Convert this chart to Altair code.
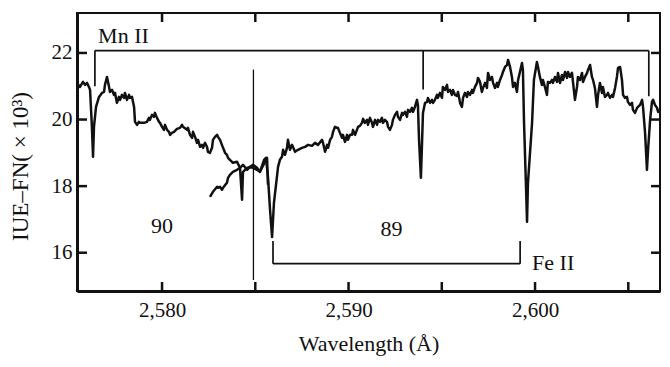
import altair as alt
import pandas as pd

# ---- spectrum, echelle order 90 (left part) ----
W90 = [2575.44, 2575.60, 2575.76, 2575.87, 2575.98, 2576.08, 2576.14, 2576.24, 2576.30, 2576.35,
       2576.46, 2576.62, 2576.78, 2576.89, 2576.94, 2577.05, 2577.16, 2577.21, 2577.32, 2577.42,
       2577.48, 2577.58, 2577.69, 2577.75, 2577.85, 2577.96, 2578.01, 2578.12, 2578.23, 2578.28,
       2578.39, 2578.50, 2578.55, 2578.66, 2578.76, 2578.82, 2579.03, 2579.19, 2579.30, 2579.35,
       2579.46, 2579.57, 2579.62, 2579.73, 2579.84, 2579.89, 2580.00, 2580.10, 2580.16, 2580.27,
       2580.37, 2580.43, 2580.53, 2580.64, 2580.80, 2580.96, 2581.07, 2581.12, 2581.34, 2581.39,
       2581.50, 2581.61, 2581.66, 2581.77, 2581.87, 2581.93, 2582.04, 2582.14, 2582.20, 2582.30,
       2582.41, 2582.46, 2582.57, 2582.68, 2582.73, 2582.84, 2582.95, 2583.00, 2583.11, 2583.21,
       2583.27, 2583.38, 2583.48, 2583.54, 2583.64, 2583.75, 2583.80, 2584.02, 2584.18, 2584.29,
       2584.34, 2584.56, 2584.72, 2584.88, 2585.09, 2585.25, 2585.52, 2585.63, 2585.68]
F90 = [21.10, 20.98, 21.13, 21.04, 21.10, 20.98, 20.89, 19.78, 18.88, 19.78,
       20.38, 20.68, 20.80, 20.83, 21.04, 21.28, 20.98, 20.83, 20.89, 20.74,
       20.80, 20.50, 20.68, 20.59, 20.74, 20.65, 20.80, 20.59, 20.74, 20.65,
       20.68, 20.38, 19.93, 19.84, 19.93, 19.90, 19.90, 19.93, 20.05, 19.99,
       20.14, 20.08, 20.20, 20.05, 19.93, 19.90, 19.78, 19.69, 19.84, 19.69,
       19.63, 19.54, 19.60, 19.63, 19.72, 19.75, 19.84, 19.78, 19.69, 19.75,
       19.54, 19.45, 19.63, 19.48, 19.30, 19.39, 19.18, 19.24, 19.15, 19.30,
       19.18, 19.03, 19.00, 19.15, 19.39, 19.48, 19.54, 19.48, 19.39, 19.24,
       19.15, 19.00, 18.94, 18.85, 18.79, 18.73, 18.70, 18.73, 18.55, 17.59,
       18.43, 18.55, 18.58, 18.64, 18.55, 18.43, 18.73, 18.85, 18.04]

# ---- spectrum, echelle order 89 (right part) ----
W89 = [2582.57, 2582.73, 2582.95, 2583.00, 2583.11, 2583.21, 2583.27, 2583.48, 2583.54, 2583.64,
       2583.80, 2584.02, 2584.18, 2584.34, 2584.56, 2584.72, 2584.88, 2585.09, 2585.25, 2585.47,
       2585.57, 2585.68, 2585.79, 2585.90, 2586.00, 2586.16, 2586.22, 2586.32, 2586.43, 2586.49,
       2586.59, 2586.70, 2586.75, 2586.86, 2586.97, 2587.13, 2587.29, 2587.50, 2587.67, 2587.83,
       2588.04, 2588.20, 2588.36, 2588.58, 2588.63, 2588.74, 2588.85, 2588.90, 2589.01, 2589.11,
       2589.17, 2589.27, 2589.38, 2589.43, 2589.54, 2589.65, 2589.70, 2589.81, 2589.92, 2589.97,
       2590.08, 2590.19, 2590.24, 2590.35, 2590.45, 2590.51, 2590.61, 2590.72, 2590.78, 2590.88,
       2590.99, 2591.04, 2591.15, 2591.26, 2591.31, 2591.42, 2591.53, 2591.58, 2591.69, 2591.79,
       2591.85, 2591.95, 2592.06, 2592.12, 2592.22, 2592.33, 2592.38, 2592.49, 2592.60, 2592.65,
       2592.76, 2592.87, 2592.92, 2593.03, 2593.13, 2593.19, 2593.30, 2593.40, 2593.46, 2593.56,
       2593.67, 2593.72, 2593.78, 2593.88, 2593.94, 2593.99, 2594.10, 2594.21, 2594.26, 2594.37,
       2594.47, 2594.53, 2594.63, 2594.74, 2594.79, 2594.90, 2595.01, 2595.06, 2595.17, 2595.28,
       2595.33, 2595.44, 2595.54, 2595.60, 2595.71, 2595.81, 2595.87, 2595.98, 2596.08, 2596.14,
       2596.24, 2596.35, 2596.40, 2596.51, 2596.62, 2596.67, 2596.78, 2596.89, 2596.94, 2597.05,
       2597.15, 2597.21, 2597.32, 2597.42, 2597.48, 2597.58, 2597.69, 2597.75, 2597.85, 2597.96,
       2598.01, 2598.12, 2598.23, 2598.28, 2598.39, 2598.50, 2598.55, 2598.66, 2598.76, 2598.82,
       2598.92, 2599.03, 2599.09, 2599.19, 2599.30, 2599.35, 2599.41, 2599.52, 2599.57, 2599.62,
       2599.84, 2599.94, 2600.10, 2600.16, 2600.26, 2600.37, 2600.42, 2600.53, 2600.64, 2600.69,
       2600.80, 2600.91, 2600.96, 2601.07, 2601.18, 2601.23, 2601.34, 2601.44, 2601.50, 2601.61,
       2601.71, 2601.77, 2601.87, 2601.98, 2602.04, 2602.14, 2602.25, 2602.30, 2602.41, 2602.52,
       2602.57, 2602.68, 2602.79, 2602.84, 2602.95, 2603.05, 2603.11, 2603.21, 2603.32, 2603.38,
       2603.48, 2603.59, 2603.64, 2603.75, 2603.86, 2603.91, 2604.02, 2604.13, 2604.18, 2604.29,
       2604.39, 2604.45, 2604.56, 2604.66, 2604.72, 2604.82, 2604.93, 2604.98, 2605.09, 2605.20,
       2605.25, 2605.36, 2605.47, 2605.52, 2605.63, 2605.74, 2605.79, 2605.90, 2606.00, 2606.06,
       2606.17, 2606.27, 2606.33, 2606.43, 2606.54, 2606.60, 2606.70]
F89 = [17.68, 17.83, 17.98, 17.95, 17.98, 17.89, 17.95, 18.10, 18.25, 18.34,
       18.43, 18.49, 18.55, 18.64, 18.49, 18.58, 18.55, 18.49, 18.43, 18.79,
       18.85, 18.28, 17.29, 16.47, 17.50, 18.28, 18.58, 18.79, 18.88, 19.09,
       18.94, 19.15, 19.39, 19.09, 19.24, 19.03, 19.09, 19.15, 19.18, 19.24,
       19.21, 19.30, 19.24, 19.39, 19.30, 19.03, 19.24, 19.15, 19.39, 19.48,
       19.63, 19.78, 19.75, 19.75, 19.60, 19.45, 19.54, 19.33, 19.54, 19.39,
       19.54, 19.54, 19.69, 19.54, 19.69, 19.78, 19.81, 19.90, 20.02, 19.90,
       19.99, 19.84, 20.05, 19.90, 19.78, 19.99, 19.84, 19.99, 19.93, 20.05,
       19.90, 19.99, 19.93, 19.78, 19.69, 19.84, 19.99, 20.14, 20.23, 20.08,
       19.99, 20.20, 20.14, 20.23, 20.08, 20.29, 20.23, 20.35, 20.23, 20.38,
       20.59, 20.44, 19.39, 18.25, 19.30, 20.20, 20.50, 20.53, 20.65, 20.50,
       20.59, 20.50, 20.59, 20.74, 20.65, 20.80, 20.65, 20.98, 20.89, 21.04,
       20.83, 20.89, 20.74, 20.89, 20.74, 20.71, 20.83, 20.50, 20.38, 20.65,
       20.80, 20.68, 20.83, 20.74, 20.89, 20.80, 20.98, 21.10, 21.25, 21.13,
       20.83, 20.95, 21.10, 20.95, 21.40, 21.19, 21.28, 21.10, 20.95, 21.10,
       20.98, 21.19, 21.34, 21.43, 21.58, 21.64, 21.79, 21.58, 21.28, 20.98,
       21.10, 20.83, 21.19, 21.43, 21.70, 21.49, 19.90, 17.89, 16.93, 18.10,
       19.90, 21.19, 21.73, 21.58, 21.28, 21.04, 21.19, 20.98, 20.74, 21.13,
       21.10, 21.19, 21.10, 21.28, 21.13, 21.40, 21.10, 21.34, 21.19, 21.43,
       21.25, 21.43, 21.28, 21.40, 21.10, 20.59, 20.98, 21.28, 21.19, 21.40,
       21.13, 21.28, 21.40, 21.49, 21.64, 21.28, 21.19, 20.95, 20.38, 20.74,
       21.10, 20.80, 20.98, 20.68, 20.74, 20.80, 20.65, 20.74, 20.68, 20.95,
       21.28, 21.55, 21.58, 21.19, 20.74, 20.65, 20.68, 20.53, 20.44, 20.50,
       20.29, 20.20, 20.35, 20.38, 20.44, 20.59, 20.38, 19.60, 18.49, 19.09,
       19.99, 20.53, 20.59, 20.44, 20.35, 20.23, 20.29]

# ---- axes ----
X_DOMAIN = [2575.44, 2606.7]
Y_DOMAIN = [14.85, 23.2]
X_TICKS = [2580, 2585, 2590, 2595, 2600, 2605]
X_LABELS = [2580, 2590, 2600]
Y_TICKS = [16, 18, 20, 22]

# ---- line identifications (brackets) ----
MN_LEVEL = 22.07
MN_W = [2576.4, 2594.0, 2606.1]
MN_END = [21.0, 20.9, 20.7]
FE_LEVEL = 15.67
FE_W = [2585.95, 2599.2]
FE_TOP = 16.35
ORDER_SPLIT_W = 2584.9
ORDER_SPLIT_F = [15.18, 21.5]

# ---- text labels ----
LEFT_TEXT = ["Mn II", "Fe II"]
LEFT_W = [2576.57, 2599.84]
LEFT_F = [22.3, 15.48]
CENTER_TEXT = ["90", "89"]
CENTER_W = [2580.0, 2592.3]
CENTER_F = [16.6, 16.5]

FONT = "Liberation Serif"
INK = "#111111"
PW, PH = 583, 278

xs = alt.Scale(domain=X_DOMAIN, nice=False, zero=False)
ys = alt.Scale(domain=Y_DOMAIN, nice=False, zero=False)

spec = pd.DataFrame({
    "w": W90 + W89,
    "f": F90 + F89,
    "order": ["90"] * len(W90) + ["89"] * len(W89),
})

x_axis = alt.Axis(
    values=X_LABELS, format=",d", title="Wavelength (Å)", grid=False,
    ticks=False, tickSize=0, labelPadding=25, labelBaseline="alphabetic",
    labelFont=FONT, labelFontSize=21, labelColor=INK,
    titleFont=FONT, titleFontSize=22, titleFontWeight="normal", titleColor=INK,
    titleY=59, titleBaseline="alphabetic",
    domainWidth=3, domainColor=INK)
y_axis = alt.Axis(
    values=Y_TICKS, format="d", title="IUE–FN( × 10³)", grid=False,
    ticks=False, tickSize=0, labelPadding=5,
    labelFont=FONT, labelFontSize=21, labelColor=INK,
    titleFont=FONT, titleFontSize=23, titleFontWeight="normal", titleColor=INK,
    titleAngle=270, titleX=-57, titleY=153, titleAlign="center", titleBaseline="middle",
    domainWidth=3, domainColor=INK)

spectrum = alt.Chart(spec).mark_line(color=INK, strokeWidth=2.5, strokeJoin="round").encode(
    x=alt.X("w:Q", scale=xs, axis=x_axis),
    y=alt.Y("f:Q", scale=ys, axis=y_axis),
    detail="order:N",
    order=alt.Order("w:Q"),
)

# bracket segments
seg_rows = []
seg_rows.append({"w": MN_W[0], "w2": MN_W[-1], "f": MN_LEVEL, "f2": MN_LEVEL})
for w, e in zip(MN_W, MN_END):
    seg_rows.append({"w": w, "w2": w, "f": MN_LEVEL, "f2": e})
seg_rows.append({"w": FE_W[0], "w2": FE_W[-1], "f": FE_LEVEL, "f2": FE_LEVEL})
for w in FE_W:
    seg_rows.append({"w": w, "w2": w, "f": FE_TOP, "f2": FE_LEVEL})
seg_rows.append({"w": ORDER_SPLIT_W, "w2": ORDER_SPLIT_W, "f": ORDER_SPLIT_F[0], "f2": ORDER_SPLIT_F[1]})
segs = pd.DataFrame(seg_rows)
segs["kind"] = ["bracket"] * (len(segs) - 1) + ["split"]

brackets = alt.Chart(segs).mark_rule(color=INK).encode(
    x=alt.X("w:Q", scale=xs), x2="w2:Q",
    y=alt.Y("f:Q", scale=ys), y2="f2:Q",
    strokeWidth=alt.StrokeWidth("kind:N", scale=alt.Scale(domain=["bracket", "split"], range=[1.7, 1.3]), legend=None),
)

# frame ticks (pointing inward on all four sides)
xt = pd.DataFrame({"w": X_TICKS})
yt = pd.DataFrame({"f": Y_TICKS})
tick_bottom = alt.Chart(xt).mark_rule(color=INK, strokeWidth=2.5).encode(
    x=alt.X("w:Q", scale=xs), y=alt.value(PH), y2=alt.value(PH - 9))
tick_top = alt.Chart(xt).mark_rule(color=INK, strokeWidth=2.5).encode(
    x=alt.X("w:Q", scale=xs), y=alt.value(0), y2=alt.value(9))
tick_left = alt.Chart(yt).mark_rule(color=INK, strokeWidth=2.5).encode(
    y=alt.Y("f:Q", scale=ys), x=alt.value(0), x2=alt.value(10))
tick_right = alt.Chart(yt).mark_rule(color=INK, strokeWidth=2.5).encode(
    y=alt.Y("f:Q", scale=ys), x=alt.value(PW), x2=alt.value(PW - 9))

left_txt = alt.Chart(pd.DataFrame({"w": LEFT_W, "f": LEFT_F, "s": LEFT_TEXT})).mark_text(
    font=FONT, fontSize=22, align="left", baseline="alphabetic", color=INK).encode(
    x=alt.X("w:Q", scale=xs), y=alt.Y("f:Q", scale=ys), text="s:N")
center_txt = alt.Chart(pd.DataFrame({"w": CENTER_W, "f": CENTER_F, "s": CENTER_TEXT})).mark_text(
    font=FONT, fontSize=22, align="center", baseline="alphabetic", color=INK).encode(
    x=alt.X("w:Q", scale=xs), y=alt.Y("f:Q", scale=ys), text="s:N")

chart = alt.layer(
    spectrum, brackets, tick_bottom, tick_top, tick_left, tick_right, left_txt, center_txt
).properties(
    width=PW, height=PH,
    autosize=alt.AutoSizeParams(type="none"),
    padding={"left": 69, "top": 5, "right": 2, "bottom": 72},
    background="white",
).configure_view(stroke=INK, strokeWidth=2)

chart.save("out.html", embed_options={"renderer": "svg", "actions": False})
